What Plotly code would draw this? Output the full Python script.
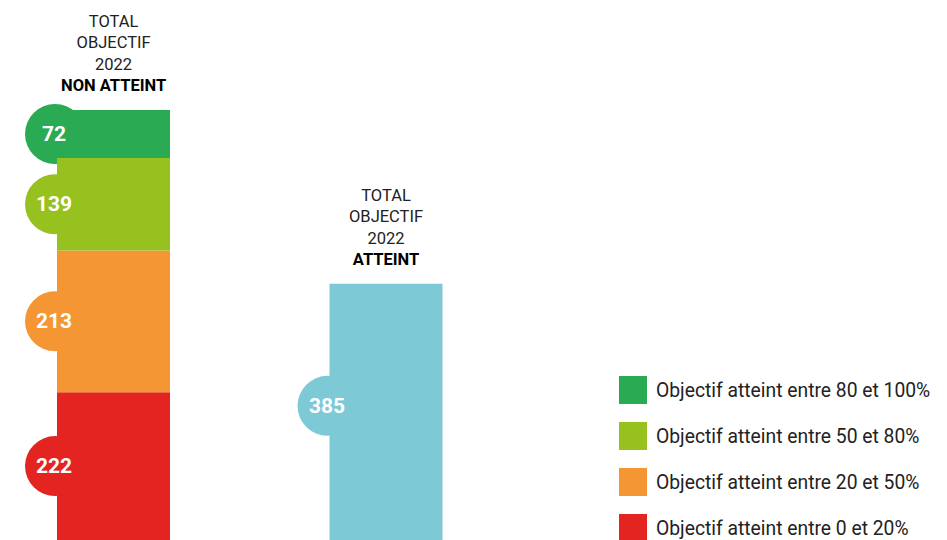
import plotly.graph_objects as go

# ---- data ----
bar_positions = [0, 1]
bar_groups = ["NON ATTEINT", "ATTEINT"]
title_lines = ["TOTAL", "OBJECTIF", "2022"]
segment_labels = [
    "Objectif atteint entre 0 et 20%",
    "Objectif atteint entre 20 et 50%",
    "Objectif atteint entre 50 et 80%",
    "Objectif atteint entre 80 et 100%",
]
non_atteint_values = [222, 213, 139, 72]
atteint_values = [385]
segment_colors = ["#e42421", "#f39633", "#97c11f", "#2aaa52"]
atteint_color = "#7ec9d6"

W, H = 947, 540
FONT = "Roboto"

# layout geometry (pixels)
px_left_center = 113.5
px_step = 272.5
bar_w = 113 / px_step
x_range = [-px_left_center / px_step, (W - px_left_center) / px_step]
y_scale = 430 / sum(non_atteint_values)
y_range = [0, H / y_scale]

fig = go.Figure()
shapes = []
annotations = []

def add_circle_label(xpos, mid, value, color, dy=0):
    shapes.append(dict(
        type="circle", xref="x", yref="y", xsizemode="pixel", ysizemode="pixel",
        xanchor=xpos - bar_w / 2, yanchor=mid,
        x0=-32, x1=28, y0=-30 + dy, y1=30 + dy,
        fillcolor=color, line=dict(width=0), layer="below",
    ))
    annotations.append(dict(
        x=xpos - bar_w / 2, y=mid, xref="x", yref="y", xshift=-3, yshift=dy,
        text=f"<b>{value}</b>", showarrow=False,
        font=dict(family=FONT, size=21, color="white"),
        xanchor="center", yanchor="middle",
    ))

base = 0
for v, c, lab in zip(non_atteint_values, segment_colors, segment_labels):
    fig.add_trace(go.Bar(x=[bar_positions[0]], y=[v], base=[base], width=bar_w,
                         marker=dict(color=c, line=dict(width=0)), name=lab,
                         hoverinfo="skip"))
    add_circle_label(bar_positions[0], base + v / 2, v, c)
    base += v

fig.add_trace(go.Bar(x=[bar_positions[1]], y=[atteint_values[0]], base=[0], width=bar_w,
                     marker=dict(color=atteint_color, line=dict(width=0)),
                     name=bar_groups[1], hoverinfo="skip"))
add_circle_label(bar_positions[1], atteint_values[0] / 2, atteint_values[0], atteint_color, dy=6)

totals = [sum(non_atteint_values), sum(atteint_values)]
for xpos, grp, tot in zip(bar_positions, bar_groups, totals):
    annotations.append(dict(
        x=xpos, y=tot, xref="x", yref="y", yshift=13,
        text="<br>".join(title_lines) + f"<br><b><span style='color:#000'>{grp}</span></b>",
        showarrow=False, align="center", xanchor="center", yanchor="bottom",
        font=dict(family=FONT, size=16.5, color="#222222"),
    ))

# legend (top to bottom: highest band first)
leg_top0 = 376
leg_step = 46
for i, (lab, c) in enumerate(zip(segment_labels[::-1], segment_colors[::-1])):
    top = leg_top0 + i * leg_step
    shapes.append(dict(
        type="rect", xref="paper", yref="paper",
        x0=619 / W, x1=647 / W, y0=1 - (top + 28) / H, y1=1 - top / H,
        fillcolor=c, line=dict(width=0),
    ))
    annotations.append(dict(
        x=654 / W, y=1 - (top + 14) / H, xref="paper", yref="paper",
        text=lab, showarrow=False, xanchor="left", yanchor="middle",
        font=dict(family=FONT, size=19.3, color="#222222"),
    ))

fig.update_layout(
    width=W, height=H,
    margin=dict(l=0, r=0, t=0, b=0),
    paper_bgcolor="white", plot_bgcolor="white",
    barmode="overlay", showlegend=False,
    xaxis=dict(range=x_range, visible=False, fixedrange=True),
    yaxis=dict(range=y_range, visible=False, fixedrange=True),
    shapes=shapes, annotations=annotations,
)

fig.write_html("out.html", config={"displayModeBar": False},
               post_script="document.body.style.margin='0';document.body.style.overflow='hidden';")
